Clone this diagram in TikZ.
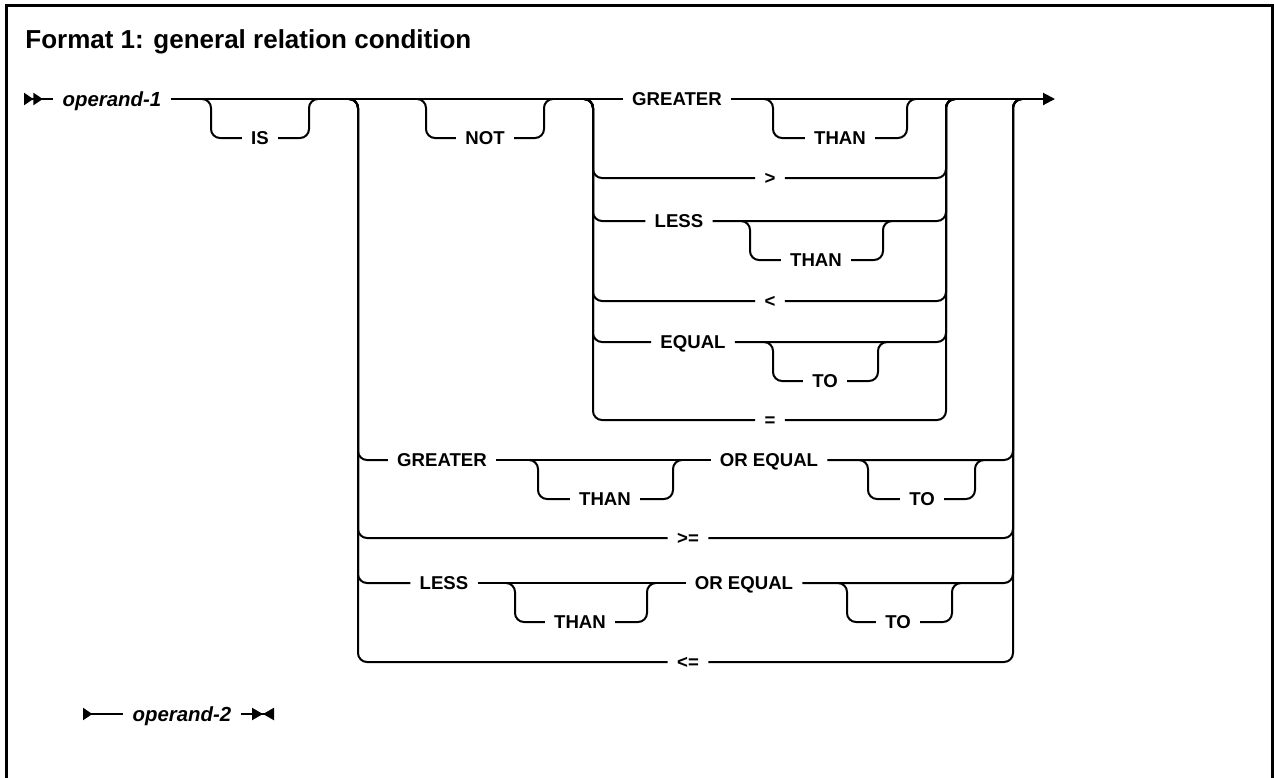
\documentclass[tikz,border=0pt]{standalone}
\usepackage{fontspec}
\setmainfont{Liberation Sans}
\usepackage{tikz}
\usetikzlibrary{arrows.meta}

\begin{document}
\begin{tikzpicture}[
  x=0.5pt, y=-0.5pt,
  kw/.style={font=\bfseries\fontsize{9.3}{11}\selectfont, inner xsep=4.5pt, inner ysep=0pt, text height=6.7pt, text depth=0pt},
  var/.style={kw, font=\bfseries\itshape\fontsize{10.2}{12}\selectfont, text height=7.4pt},
  rail/.style={line width=1pt, rounded corners=4.5pt}
]
\useasboundingbox (0,0) rectangle (1274,777);
% frame and heading
\draw[line width=1.5pt] (6.5,790) -- (6.5,5.5) -- (1272.5,5.5) -- (1272.5,790);
\node[anchor=base west, inner sep=0pt, font=\bfseries\fontsize{13}{15}\selectfont] (title) at (25,48) {Format 1: general relation condition};

% optional item: (name, left x, right x, rail y, drop y, label x, label)
\def\railopt#1#2#3#4#5#6#7{%
  \node[kw] (#1) at (#6,#5) {#7};
  \draw[rail] ({#2-9},#4) -| (#2,#5) -- (#1.west);
  \draw[rail] (#1.east) -| (#3,#4) -- ({#3+9},#4);
}
% branch of a choice: (left x, right x, rail y, row y, first node, last node)
\def\railalt#1#2#3#4#5#6{%
  \draw[rail] ({#1-9},#3) -| (#1,#4) -- (#5.west);
  \draw[rail] (#6.east) -| (#2,#3) -- ({#2+9},#3);
}

% main rail
\coordinate (go) at (24,99);
\coordinate (stop) at (1055,99);
\node[var] (op1) at (112,99) {operand-1};
\node[kw] (gt1) at (677,99) {GREATER};
\draw[rail, {Triangle[reversed,length=4.7pt,width=6pt]Triangle[reversed,length=4.7pt,width=6pt]}-] (go) -- (op1.west);
\draw[rail] (op1.east) -- (gt1.west);
\draw[rail, -{Triangle[length=6pt,width=6pt]}] (gt1.east) -- (stop);
\railopt{is}{211}{309}{99}{138}{260}{IS}
\railopt{not}{426}{544}{99}{138}{485}{NOT}
\railopt{th1}{773}{907}{99}{138}{840}{THAN}

% inner choice
\node[kw] (gtr) at (770,178) {>};
\railalt{593}{946}{99}{178}{gtr}{gtr}
\node[kw] (ls1) at (679,221) {LESS};
\railalt{593}{946}{99}{221}{ls1}{ls1}
\railopt{th2}{750}{883}{221}{260}{816}{THAN}
\node[kw] (lss) at (770,301) {<};
\railalt{593}{946}{99}{301}{lss}{lss}
\node[kw] (eq1) at (693,342) {EQUAL};
\railalt{593}{946}{99}{342}{eq1}{eq1}
\railopt{to1}{773}{878}{342}{381}{825}{TO}
\node[kw] (equ) at (770,420) {=};
\railalt{593}{946}{99}{420}{equ}{equ}

% outer choice
\node[kw] (gt2) at (442,460) {GREATER};
\node[kw] (oe1) at (769,460) {OR EQUAL};
\draw[rail] (gt2.east) -- (oe1.west);
\railalt{358}{1013}{99}{460}{gt2}{oe1}
\railopt{th3}{538}{673}{460}{499}{605}{THAN}
\railopt{to2}{868}{975}{460}{499}{922}{TO}
\node[kw] (ge) at (688,538) {>=};
\railalt{358}{1013}{99}{538}{ge}{ge}
\node[kw] (ls2) at (444,583) {LESS};
\node[kw] (oe2) at (744,583) {OR EQUAL};
\draw[rail] (ls2.east) -- (oe2.west);
\railalt{358}{1013}{99}{583}{ls2}{oe2}
\railopt{th4}{515}{647}{583}{622}{580}{THAN}
\railopt{to3}{847}{952}{583}{622}{898}{TO}
\node[kw] (le) at (688,662) {<=};
\railalt{358}{1013}{99}{662}{le}{le}

% second operand
\coordinate (go2) at (83,714);
\coordinate (stop2) at (274,714);
\node[var] (op2) at (182,714) {operand-2};
\draw[rail, {Triangle[reversed,length=4.7pt,width=6pt]}-] (go2) -- (op2.west);
\draw[rail, -{Triangle[length=5.5pt,width=6pt]Triangle[reversed,length=5.5pt,width=6pt]}] (op2.east) -- (stop2);
\end{tikzpicture}
\end{document}
